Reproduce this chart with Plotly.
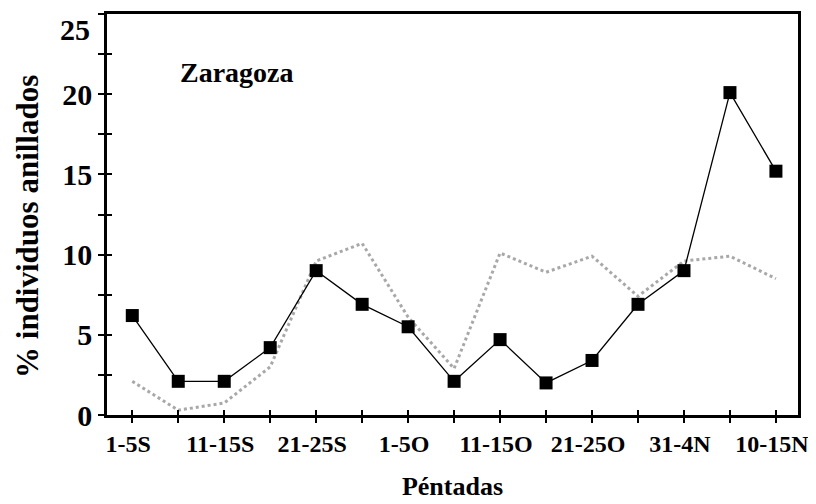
import plotly.graph_objects as go

pentadas = ["1-5S", "6-10S", "11-15S", "16-20S", "21-25S", "26-30S", "1-5O", "6-10O",
            "11-15O", "16-20O", "21-25O", "26-30O", "31-4N", "5-9N", "10-15N"]
zaragoza = [6.2, 2.1, 2.1, 4.2, 9.0, 6.9, 5.5, 2.1, 4.7, 2.0, 3.4, 6.9, 9.0, 20.1, 15.2]
referencia = [2.1, 0.3, 0.75, 3.0, 9.6, 10.7, 6.1, 2.9, 10.1, 8.9, 9.9, 7.4, 9.6, 9.9, 8.5]
shown_labels = ["1-5S", "11-15S", "21-25S", "1-5O", "11-15O", "21-25O", "31-4N", "10-15N"]
y_ticks = [0, 2.5, 5, 7.5, 10, 12.5, 15, 17.5, 20, 22.5, 25]
y_max = 25

idx = list(range(len(pentadas)))
tick_text = [p if p in shown_labels else "" for p in pentadas]
# the top label sits below its tick in the original, so it is drawn separately
y_text = [str(int(v)) if v % 5 == 0 and v != y_max else "" for v in y_ticks]

serif = "Liberation Serif"

fig = go.Figure()
fig.add_trace(go.Scatter(
    x=idx, y=referencia, mode="lines",
    line=dict(color="#a8a8a8", width=3, dash="dot"),
    showlegend=False,
))
fig.add_trace(go.Scatter(
    x=idx, y=zaragoza, mode="lines+markers",
    line=dict(color="black", width=1.3),
    marker=dict(symbol="square", size=13, color="black"),
    showlegend=False,
))

fig.update_layout(
    width=816, height=504,
    margin=dict(l=99, r=26, t=6, b=97),
    plot_bgcolor="white", paper_bgcolor="white",
    font=dict(family=serif, color="black"),
    xaxis=dict(
        range=[-0.55, 14.48], tickmode="array", tickvals=idx, ticktext=tick_text,
        ticks="outside", ticklen=5, tickwidth=2, tickcolor="black",
        showline=True, linecolor="black", linewidth=2.5, mirror=True,
        showgrid=False, zeroline=False, automargin=False, ticklabeloverflow="allow",
        ticklabelshift=-4,
        tickfont=dict(size=24, family=serif, color="black", weight="bold"),
        title=dict(text="<b>Péntadas</b>", font=dict(size=26, family=serif), standoff=22),
    ),
    yaxis=dict(
        range=[0, y_max], tickmode="array", tickvals=y_ticks, ticktext=y_text,
        ticks="outside", ticklen=6, tickwidth=2, tickcolor="black",
        showline=True, linecolor="black", linewidth=2.5, mirror=True,
        showgrid=False, zeroline=False, automargin=False, ticklabeloverflow="allow",
        tickfont=dict(size=30, family=serif, color="black", weight="bold"),
    ),
    xaxis2=dict(
        overlaying="x", matches="x", tickmode="array", tickvals=idx,
        ticks="inside", ticklen=5, tickwidth=2, tickcolor="black",
        showticklabels=False, showgrid=False, zeroline=False,
    ),
    yaxis2=dict(
        overlaying="y", matches="y", tickmode="array", tickvals=y_ticks,
        ticks="inside", ticklen=5, tickwidth=2, tickcolor="black",
        showticklabels=False, showgrid=False, zeroline=False,
    ),
    annotations=[
        dict(text="<b>Zaragoza</b>", xref="paper", yref="paper", x=0.103, y=0.853,
             xanchor="left", yanchor="middle", showarrow=False,
             font=dict(size=28, family=serif, color="black")),
        dict(text=f"<b>{y_max}</b>", xref="paper", yref="y", x=0, y=y_max,
             xanchor="right", yanchor="top", xshift=-15, yshift=3, showarrow=False,
             font=dict(size=30, family=serif, color="black")),
        dict(text="<b>% individuos anillados</b>", xref="paper", yref="paper",
             x=-0.116, y=0.471, xanchor="center", yanchor="middle", textangle=-90,
             showarrow=False, font=dict(size=31, family=serif, color="black")),
    ],
)
# invisible trace to activate the inner-tick overlay axes
fig.add_trace(go.Scatter(x=[0], y=[0], xaxis="x2", yaxis="y2", mode="markers",
                         marker=dict(opacity=0), hoverinfo="skip", showlegend=False))

fig.write_html("out.html")
